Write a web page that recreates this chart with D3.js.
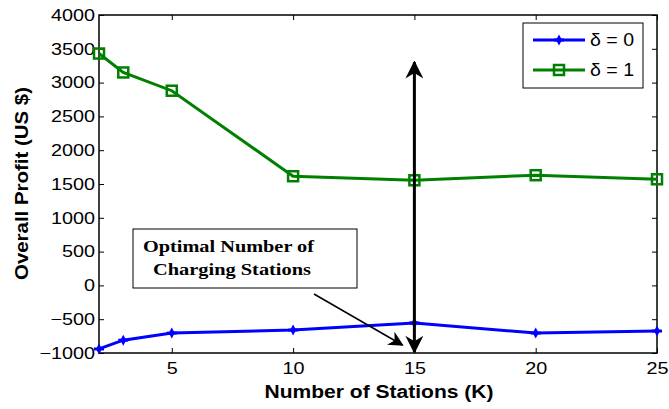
<!DOCTYPE html>
<html><head><meta charset="utf-8">
<script src="https://cdn.jsdelivr.net/npm/d3@7"></script>
<style>body{margin:0;background:#fff}svg{display:block}</style>
</head><body>
<script>
const stations = [2, 3, 5, 10, 15, 20, 25];
const delta0 = [-940, -810, -705, -660, -555, -705, -675];
const delta1 = [3430, 3150, 2880, 1615, 1555, 1630, 1570];
const seriesNames = ["δ = 0", "δ = 1"];
const xTicks = [5, 10, 15, 20, 25];
const yTicks = [-1000, -500, 0, 500, 1000, 1500, 2000, 2500, 3000, 3500, 4000];
const annotationText = ["Optimal Number of", "Charging Stations"];
const optimalK = 15;
const arrowTop = 3300;

const W = 669, H = 409;
const m = {l: 99, r: 12, t: 15, b: 56};
const svg = d3.select("body").append("svg").attr("width", W).attr("height", H);
const x = d3.scaleLinear().domain([2, 25]).range([m.l, W - m.r]);
const y = d3.scaleLinear().domain([-1000, 4000]).range([H - m.b, m.t]);

// horizontally widen glyphs (reference text is wider than the installed fonts)
function stretch(sel, k) {
  sel.each(function() {
    const len = this.getComputedTextLength();
    d3.select(this).attr("textLength", len * k).attr("lengthAdjust", "spacingAndGlyphs");
  });
}

const defs = svg.append("defs");
defs.append("marker").attr("id", "ah").attr("viewBox", "0 0 10 10").attr("refX", 9).attr("refY", 5)
  .attr("markerWidth", 6).attr("markerHeight", 6).attr("markerUnits", "strokeWidth").attr("orient", "auto-start-reverse")
  .append("path").attr("d", "M0,0 L10,5 L0,10 L3,5 Z").attr("fill", "#000");
defs.append("marker").attr("id", "ah2").attr("viewBox", "0 0 10 10").attr("refX", 9).attr("refY", 5)
  .attr("markerWidth", 10).attr("markerHeight", 10).attr("markerUnits", "strokeWidth").attr("orient", "auto")
  .append("path").attr("d", "M0,0 L10,5 L0,10 L3,5 Z").attr("fill", "#000");

const font = "'Liberation Sans', Arial, sans-serif";

// axes box
const g = svg.append("g");
g.append("rect").attr("x", m.l).attr("y", m.t).attr("width", W - m.r - m.l).attr("height", H - m.b - m.t)
  .attr("fill", "none").attr("stroke", "#000").attr("stroke-width", 1.5);

const xAxis = g.append("g").attr("transform", `translate(0,${H - m.b})`)
  .call(d3.axisBottom(x).tickValues(xTicks).tickSize(-5));
const xTop = g.append("g").attr("transform", `translate(0,${m.t})`)
  .call(d3.axisTop(x).tickValues(xTicks).tickSize(-5).tickFormat(""));
const yAxis = g.append("g").attr("transform", `translate(${m.l},0)`)
  .call(d3.axisLeft(y).tickValues(yTicks).tickSize(-5).tickPadding(5).tickFormat(d => d < 0 ? "\u2212" + Math.abs(d) : d));
const yRight = g.append("g").attr("transform", `translate(${W - m.r},0)`)
  .call(d3.axisRight(y).tickValues(yTicks).tickSize(-5).tickFormat(""));
[xAxis, xTop, yAxis, yRight].forEach(a => {
  a.select(".domain").remove();
  a.selectAll(".tick line").attr("stroke", "#000").attr("stroke-width", 1);
  a.selectAll("text").attr("font-family", font).attr("font-size", 16.5).attr("fill", "#000");
});
xAxis.selectAll("text").attr("y", 21).attr("dy", 0);
yAxis.selectAll("text").attr("x", -4);
stretch(xAxis.selectAll("text"), 1.2);
stretch(yAxis.selectAll("text"), 1.2);

// axis labels
svg.append("text").attr("x", (m.l + W - m.r) / 2 + 1).attr("y", 398).attr("text-anchor", "middle")
  .attr("font-family", font).attr("font-weight", "bold").attr("font-size", 17.5).text("Number of Stations (K)")
  .attr("textLength", 229).attr("lengthAdjust", "spacingAndGlyphs");
svg.append("text").attr("transform", `translate(28,${(87 + 280) / 2}) rotate(-90)`).attr("text-anchor", "middle")
  .attr("font-family", font).attr("font-weight", "bold").attr("font-size", 18.5).text("Overall Profit (US $)")
  .attr("textLength", 193).attr("lengthAdjust", "spacingAndGlyphs");

const line = d3.line().x(d => x(d[0])).y(d => y(d[1]));
const d0 = stations.map((s, i) => [s, delta0[i]]);
const d1 = stations.map((s, i) => [s, delta1[i]]);
const blue = "#0000ff", green = "#008000";

function blueMarker(sel, cx, cy) {
  sel.append("path").attr("d", `M${cx},${cy - 5.5} L${cx + 3},${cy} L${cx},${cy + 5.5} L${cx - 3},${cy} Z`).attr("fill", blue);
  sel.append("path").attr("d", `M${cx - 5},${cy} L${cx + 5},${cy}`).attr("stroke", blue).attr("stroke-width", 3);
}
function greenMarker(sel, cx, cy) {
  sel.append("rect").attr("x", cx - 5).attr("y", cy - 5).attr("width", 10).attr("height", 10)
    .attr("fill", "none").attr("stroke", green).attr("stroke-width", 2.5);
}

const pl = svg.append("g");
pl.append("path").datum(d1).attr("d", line).attr("fill", "none").attr("stroke", green).attr("stroke-width", 3);
d1.forEach(d => greenMarker(pl, x(d[0]), y(d[1])));
pl.append("path").datum(d0).attr("d", line).attr("fill", "none").attr("stroke", blue).attr("stroke-width", 3);
d0.forEach(d => blueMarker(pl, x(d[0]), y(d[1])));

// double arrow
svg.append("line").attr("x1", x(optimalK)).attr("x2", x(optimalK)).attr("y1", y(arrowTop)).attr("y2", y(-1000) - 1)
  .attr("stroke", "#000").attr("stroke-width", 3)
  .attr("marker-start", "url(#ah)").attr("marker-end", "url(#ah)");

// annotation box
const bx = 133, by = 229, bw = 224, bh = 59;
svg.append("rect").attr("x", bx).attr("y", by).attr("width", bw).attr("height", bh)
  .attr("fill", "#fff").attr("stroke", "#000").attr("stroke-width", 1);
const annLens = [171, 158];
annotationText.forEach((t, i) => {
  svg.append("text").attr("x", bx + 10 + (i ? 10 : 0)).attr("y", by + 23 + i * 23)
    .attr("font-family", "'Liberation Serif', 'Times New Roman', serif").attr("font-weight", "bold").attr("font-size", 17.5)
    .attr("textLength", annLens[i]).attr("lengthAdjust", "spacingAndGlyphs")
    .text(t);
});
// diagonal arrow
svg.append("line").attr("x1", 314).attr("y1", 294).attr("x2", x(optimalK) - 12).attr("y2", y(-1000) - 8)
  .attr("stroke", "#000").attr("stroke-width", 1.5).attr("marker-end", "url(#ah2)");

// legend
const lg = svg.append("g");
lg.append("rect").attr("x", 523).attr("y", 23).attr("width", 120).attr("height", 65)
  .attr("fill", "#fff").attr("stroke", "#000").attr("stroke-width", 1);
[[blue, 40], [green, 70]].forEach(([c, yy], i) => {
  lg.append("line").attr("x1", 533).attr("x2", 585).attr("y1", yy).attr("y2", yy).attr("stroke", c).attr("stroke-width", 3);
  if (i === 0) blueMarker(lg, 559, yy); else greenMarker(lg, 559, yy);
  lg.append("text").attr("x", 590).attr("y", yy + 6).attr("font-family", font).attr("font-size", 17.5)
    .attr("textLength", 44).attr("lengthAdjust", "spacingAndGlyphs").text(seriesNames[i]);
});
</script>
</body></html>
